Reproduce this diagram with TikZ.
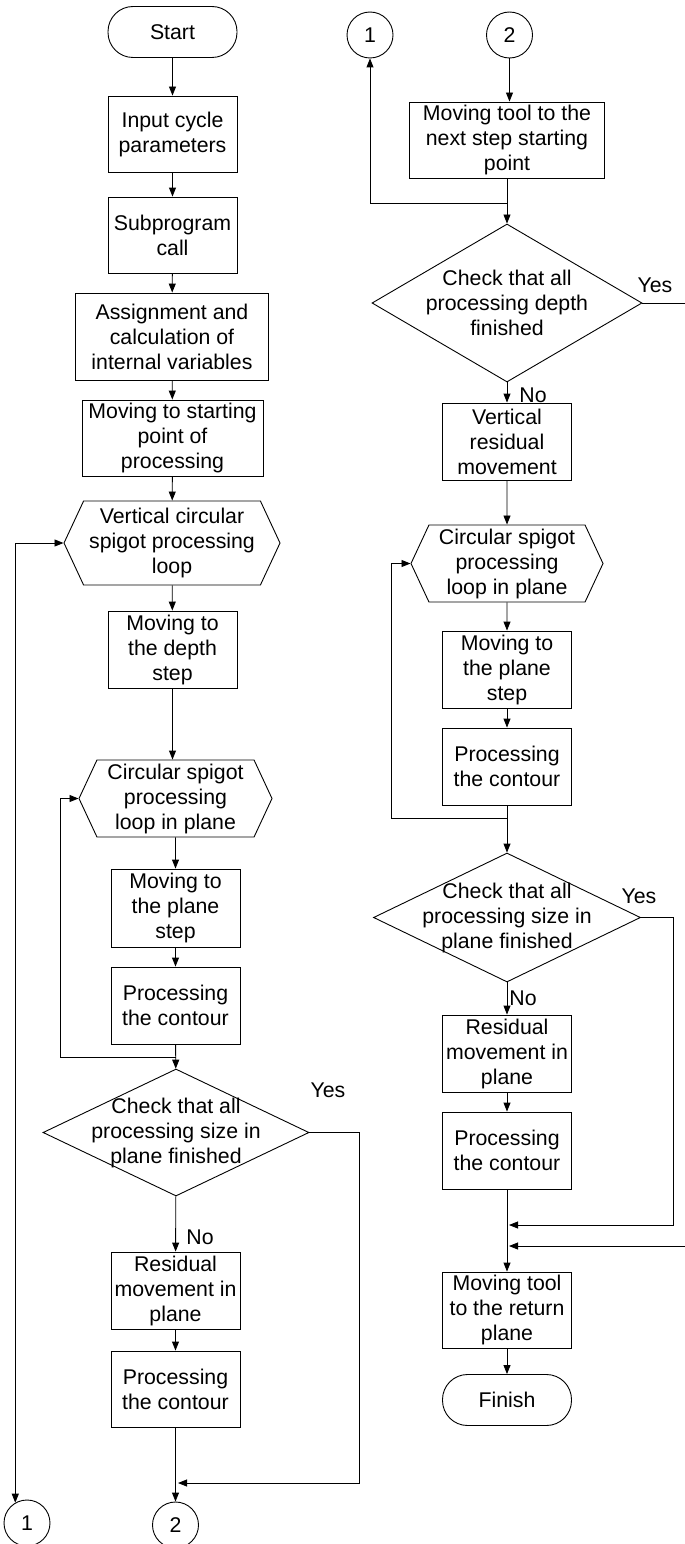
\documentclass[tikz,border=0pt]{standalone}
\usepackage{fontspec}
\setmainfont{Liberation Sans}
\usetikzlibrary{arrows.meta,shapes.geometric,shapes.symbols}

\begin{document}
\begin{tikzpicture}[x=1pt,y=-1pt,line width=0.9pt,>={Triangle[length=9pt,width=7pt]},
    every node/.style={font=\fontsize{21.3}{25}\selectfont,align=center,inner sep=0pt},
    proc/.style={draw,minimum width=129pt,minimum height=77pt},
    term/.style={draw,rounded corners=25pt,minimum width=129pt,minimum height=51pt},
    loopbox/.style={draw,signal,signal to=west and east,signal pointer angle=130,minimum height=77pt},
    decide/.style={draw,diamond},
    conn/.style={draw,circle,minimum size=46pt}]
  \useasboundingbox (0,0) rectangle (685,1544);
  \clip (0,0) rectangle (685,1544);
  % left column
  \draw
    (172.5,32) node[term] (start){Start}
    (172.5,134) node[proc,minimum height=76pt] (inp){Input cycle\\parameters}
    (172.5,235) node[proc,minimum height=76pt] (sub){Subprogram\\call}
    (172,336.5) node[proc,minimum width=193pt,minimum height=87pt] (asg){Assignment and\\calculation of\\internal variables}
    (172.5,438) node[proc,minimum width=181pt,minimum height=76pt] (mvs){Moving to starting\\point of\\processing}
    (172,543) node[loopbox,minimum width=216pt,minimum height=84pt] (hexA){Vertical circular\\spigot processing\\loop}
    (172.5,649.5) node[proc] (dep){Moving to\\the depth\\step}
    (175.5,798.5) node[loopbox,minimum width=193pt] (hexB){Circular spigot\\processing\\loop in plane}
    (175.5,908) node[proc,minimum height=78pt] (plA){Moving to\\the plane\\step}
    (175.5,1005.5) node[proc] (prA){Processing\\the contour}
    (176,1132.5) node[decide,minimum width=266pt,minimum height=127pt] (dA){}
    (176,1132.5) node (dAt){Check that all\\processing size in\\plane finished}
    (328,1090) node (yA){Yes}
    (200,1237) node (nA){No}
    (175.5,1290.5) node[proc] (resA){Residual\\movement in\\plane}
    (175.5,1389) node[proc,minimum height=76pt] (prB){Processing\\the contour}
    (27,1523) node[conn] (cA1){1}
    (175.5,1525) node[conn] (cA2){2};
  % right column
  \draw
    (370,35) node[conn] (cB1){1}
    (509.5,35) node[conn] (cB2){2}
    (507,140) node[proc,minimum width=195pt,minimum height=76pt] (nxt){Moving tool to the\\next step starting\\point}
    (507,303) node[decide,minimum width=270pt,minimum height=158pt] (dB){}
    (507,303) node (dBt){Check that all\\processing depth\\finished}
    (655,285) node (yB){Yes}
    (533,395) node (nB){No}
    (507,441.5) node[proc] (vres){Vertical\\residual\\movement}
    (507,563.5) node[loopbox,minimum width=192pt] (hexC){Circular spigot\\processing\\loop in plane}
    (507,669.5) node[proc] (plB){Moving to\\the plane\\step}
    (507,766.5) node[proc] (prC){Processing\\the contour}
    (507,917.5) node[decide,minimum width=267pt,minimum height=129pt] (dC){}
    (507,917.5) node (dCt){Check that all\\processing size in\\plane finished}
    (639,896) node (yC){Yes}
    (523,998) node (nC){No}
    (507,1053.5) node[proc] (resB){Residual\\movement in\\plane}
    (507,1150.5) node[proc] (prD){Processing\\the contour}
    (507,1310) node[proc,minimum height=76pt] (ret){Moving tool\\to the return\\plane}
    (507,1400) node[term] (fin){Finish};
  \coordinate (jA) at (175.5,1057);
  \coordinate (lpA) at (60,798.5);
  \coordinate (tA) at (359,1483);
  \coordinate (mA) at (178,1483);
  \coordinate (jB) at (507,203);
  \coordinate (tB) at (690,1246);
  \coordinate (mB) at (509,1246);
  \coordinate (jC) at (507,818);
  \coordinate (lpB) at (391,563.5);
  \coordinate (tC) at (673,1225);
  \coordinate (mC) at (509,1225);
  \begin{scope}[->]
    \draw (start) to (inp);
    \draw (inp) to (sub);
    \draw (sub) to (asg);
    \draw (asg) to (mvs);
    \draw (mvs) to (hexA);
    \draw (hexA) to (dep);
    \draw (dep) to (dep |- hexB.north);
    \draw (hexB) to (plA);
    \draw (plA) to (prA);
    \draw (prA) to (dA);
    \draw (jA) -| (lpA) -- (hexB.west);
    \draw (dA) to (resA);
    \draw (dA.east) -| (tA) -- (mA);
    \draw (resA) to (prB);
    \draw (prB) to (cA2);
    \draw[<->] (cA1.120) |- (hexA.west);
    \draw (cB2) to (cB2 |- nxt.north);
    \draw (nxt) to (dB);
    \draw (jB) -| (cB1);
    \draw (dB) to (vres);
    \draw (dB.east) -| (tB) -- (mB);
    \draw (vres) to (hexC);
    \draw (hexC) to (plB);
    \draw (plB) to (prC);
    \draw (prC) to (dC);
    \draw (jC) -| (lpB) -- (hexC.west);
    \draw (dC) to (resB);
    \draw (dC.east) -| (tC) -- (mC);
    \draw (resB) to (prD);
    \draw (prD) to (ret);
    \draw (ret) to (fin);
  \end{scope}
\end{tikzpicture}
\end{document}
